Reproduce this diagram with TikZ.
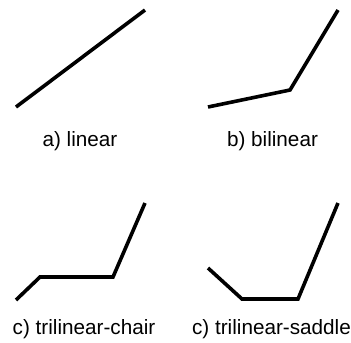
\documentclass[tikz,border=0pt]{standalone}
\usepackage{fontspec}
\setmainfont{Liberation Sans}
\begin{document}
\begin{tikzpicture}[x=1bp,y=-1bp,
  curve/.style={line width=3.6bp,line join=miter,line cap=butt},
  lbl/.style={font=\fontsize{20.7bp}{24bp}\selectfont,anchor=base,inner sep=0pt}]
\useasboundingbox (0,0) rectangle (351,343);
% a) linear
\draw[curve] (16,107) -- (145,10);
% b) bilinear
\draw[curve] (208,107) -- (290,90) -- (338,10);
% c) trilinear-chair
\draw[curve] (16,300) -- (40,277) -- (113,277) -- (145,203);
% c) trilinear-saddle
\draw[curve] (208,268) -- (242,299) -- (298,299) -- (338,203);
\node[lbl] (la) at (80,146) {a) linear};
\node[lbl] (lb) at (272.5,146) {b) bilinear};
\node[lbl] (lc) at (84,334) {c) trilinear-chair};
\node[lbl] (ld) at (271.5,334) {c) trilinear-saddle};
\end{tikzpicture}
\end{document}
